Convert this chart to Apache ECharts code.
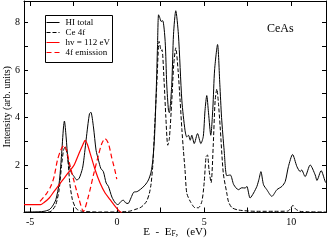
<!DOCTYPE html>
<html>
<head>
<meta charset="utf-8">
<script src="https://cdn.jsdelivr.net/npm/echarts@6/dist/echarts.min.js"></script>
<style>html,body{margin:0;padding:0;background:#fff}#c{width:327px;height:240px}</style>
</head>
<body>
<div id="c"></div>
<script>
// Data: [energy (eV), intensity (arb. units)]
var hiTotal = [[-5.35,0.02],[-4.5,0.03],[-4.2,0.05],[-3.9,0.12],[-3.72,0.26],[-3.52,0.54],[-3.33,1.24],[-3.2,2.35],[-3.08,3.6],[-3.03,3.85],[-2.93,3.18],[-2.82,2.2],[-2.66,1.72],[-2.47,1.51],[-2.32,1.37],[-2.18,1.44],[-1.99,1.86],[-1.9,2.3],[-1.74,3.32],[-1.59,4.15],[-1.51,4.22],[-1.36,3.6],[-1.21,2.62],[-1.07,2.2],[-0.94,1.86],[-0.79,1.72],[-0.63,1.24],[-0.5,1.1],[-0.3,0.65],[-0.1,0.4],[0.05,0.33],[0.2,0.45],[0.35,0.52],[0.5,0.4],[0.63,0.38],[0.8,0.62],[0.95,0.85],[1.15,0.88],[1.35,0.98],[1.6,1.15],[1.8,1.37],[1.95,1.7],[2.05,2.2],[2.15,3.2],[2.25,5.2],[2.32,7.0],[2.38,8.32],[2.45,8.2],[2.53,8.04],[2.62,8.07],[2.76,7.2],[2.85,5.4],[2.95,4.29],[3.0,4.2],[3.14,5.4],[3.24,7.5],[3.37,8.49],[3.52,7.5],[3.72,4.7],[3.9,3.46],[4.0,3.18],[4.1,3.25],[4.2,3.04],[4.29,3.25],[4.43,2.9],[4.62,3.32],[4.81,2.9],[4.95,3.2],[5.05,4.3],[5.15,4.92],[5.25,4.2],[5.38,3.25],[5.5,4.4],[5.6,6.0],[5.77,7.07],[5.9,5.4],[6.0,4.0],[6.15,2.6],[6.3,1.55],[6.5,1.58],[6.7,1.17],[6.97,0.96],[7.16,1.04],[7.36,1.03],[7.45,1.1],[7.64,0.61],[7.84,0.82],[8.03,1.1],[8.15,1.4],[8.26,1.72],[8.41,1.17],[8.6,0.96],[8.89,0.68],[9.18,0.96],[9.47,1.1],[9.66,1.31],[9.84,1.93],[10.08,2.44],[10.33,1.93],[10.52,1.72],[10.6,1.79],[10.8,1.51],[11.09,2.0],[11.38,1.58],[11.48,1.35],[11.72,1.76],[11.95,1.31],[12,1.25]];
var ce4f = [[-5.35,0.0],[-4.0,0.01],[-3.8,0.05],[-3.7,0.12],[-3.52,0.33],[-3.33,0.96],[-3.2,1.93],[-3.08,2.62],[-2.99,2.76],[-2.85,2.35],[-2.72,1.24],[-2.57,0.54],[-2.4,0.22],[-2.28,0.12],[-2.0,0.05],[-1.0,0.02],[0.0,0.02],[0.5,0.04],[0.75,0.06],[1.0,0.12],[1.32,0.2],[1.5,0.3],[1.7,0.48],[1.85,0.8],[1.95,1.2],[2.05,2.0],[2.15,3.5],[2.28,5.4],[2.41,7.2],[2.47,7.0],[2.53,6.8],[2.58,6.85],[2.7,5.5],[2.8,4.0],[2.91,2.83],[3.0,3.1],[3.14,4.7],[3.25,6.2],[3.37,6.93],[3.5,6.0],[3.62,4.7],[3.72,3.5],[3.81,2.6],[3.9,1.8],[4.0,0.82],[4.2,0.47],[4.48,0.2],[4.67,0.2],[4.87,0.47],[5.0,1.25],[5.11,2.35],[5.19,2.42],[5.28,1.8],[5.4,1.25],[5.52,2.8],[5.63,4.7],[5.73,5.2],[5.82,4.6],[5.92,3.6],[6.1,1.65],[6.3,0.82],[6.4,0.45],[6.6,0.2],[7,0.1],[8,0.05],[9,0.05],[9.8,0.06],[9.95,0.15],[10.1,0.3],[10.25,0.15],[10.5,0.05],[11,0.03],[12,0.02]];
var hv112 = [[-5.35,0.33],[-4.4,0.33],[-4.2,0.42],[-3.9,0.61],[-3.62,0.89],[-3.33,1.17],[-3.05,1.44],[-2.76,1.72],[-2.47,2.0],[-2.18,2.5],[-1.95,2.88],[-1.84,3.04],[-1.7,2.85],[-1.55,2.49],[-1.26,1.79],[-0.98,1.24],[-0.69,0.82],[-0.4,0.54],[-0.11,0.26],[0.1,0.08],[0.25,0.0]];
var emission4f = [[-4.43,0.47],[-4.1,0.75],[-3.81,1.1],[-3.62,1.51],[-3.43,2.2],[-3.24,2.62],[-3.05,2.83],[-2.9,2.6],[-2.76,2.14],[-2.47,1.3],[-2.18,0.54],[-1.94,0.05],[-1.65,0.68],[-1.36,1.58],[-1.07,2.42],[-0.88,2.9],[-0.69,3.11],[-0.5,2.9],[-0.3,2.28],[-0.11,1.72],[-0.02,1.4]];
var xTickLabels = [-5, 0, 5, 10];
var xTicks = [-5, -2.5, 0, 2.5, 5, 7.5, 10];
var yTickLabels = [2, 4, 6, 8];
var yTicks = [1, 2, 3, 4, 5, 6, 7, 8];
var seriesNames = ['HI total', 'Ce 4f', 'hv = 112 eV', '4f emission'];

var SERIF = 'Liberation Serif';
var chart = echarts.init(document.getElementById('c'), null, {renderer: 'canvas'});
var axisLine = {show: true, onZero: false, lineStyle: {color: '#000', width: 1}};
function xAx(pos, labels) {
  return {type: 'value', position: pos, min: -5.35, max: 12,
    axisLine: axisLine, splitLine: {show: false},
    axisTick: {show: true, inside: true, length: 5, customValues: xTicks, lineStyle: {color: '#000'}},
    axisLabel: {show: labels, customValues: xTickLabels, margin: 5, fontFamily: SERIF, fontSize: 10, color: '#000'}};
}
function yAx(pos, labels) {
  return {type: 'value', position: pos, min: 0, max: 8.9,
    axisLine: axisLine, splitLine: {show: false},
    axisTick: {show: true, inside: true, length: 4, customValues: yTicks, lineStyle: {color: '#000'}},
    axisLabel: {show: labels, customValues: yTickLabels, margin: 4, fontFamily: SERIF, fontSize: 10, color: '#000'}};
}
var xa = xAx('bottom', true);
xa.name = 'E  -  E{sub|F},   (eV)';
xa.nameLocation = 'middle';
xa.nameGap = 13;
xa.nameMoveOverlap = false;
xa.nameTextStyle = {fontFamily: SERIF, fontSize: 11, color: '#000',
  rich: {sub: {fontFamily: SERIF, fontSize: 7.5, color: '#000', padding: [5, 0, 0, 0]}}};
var ya = yAx('left', true);
ya.name = 'Intensity (arb. units)';
ya.nameLocation = 'middle';
ya.nameGap = 12;
ya.nameMoveOverlap = false;
ya.nameTextStyle = {fontFamily: SERIF, fontSize: 10, color: '#000'};

function ser(name, data, color, type, width) {
  return {name: name, type: 'line', data: data, xAxisIndex: 0, yAxisIndex: 0,
    symbol: 'none', showSymbol: false, smooth: 0.25, animation: false,
    lineStyle: {color: color, width: width, type: type}, itemStyle: {color: color}};
}

chart.setOption({
  animation: false,
  grid: {left: 24, right: 1, top: 1, bottom: 27.5, containLabel: false, outerBoundsMode: 'none'},
  xAxis: [xa, xAx('top', false)],
  yAxis: [ya, yAx('right', false)],
  legend: {
    data: seriesNames, orient: 'vertical', left: 46, top: 18,
    itemWidth: 13, itemHeight: 8, itemGap: 1, padding: 0,
    itemStyle: {opacity: 0},
    lineStyle: {width: 1},
    textStyle: {fontFamily: SERIF, fontSize: 9, color: '#000', padding: [0,0,0,1]},
    selectedMode: false
  },
  graphic: [
    {type: 'rect', shape: {x: 45.5, y: 15.5, width: 67, height: 47}, style: {fill: 'none', stroke: '#000', lineWidth: 1}, z: 10},
    {type: 'text', left: 267, top: 23, style: {text: 'CeAs', font: '12px "Liberation Serif"', fill: '#000'}}
  ],
  series: [
    ser(seriesNames[0], hiTotal, '#000', 'solid', 1),
    ser(seriesNames[1], ce4f, '#000', [4, 2], 1),
    ser(seriesNames[2], hv112, '#ff0000', 'solid', 1.2),
    ser(seriesNames[3], emission4f, '#ff0000', [5, 3], 1.2)
  ]
});
</script>
</body>
</html>
